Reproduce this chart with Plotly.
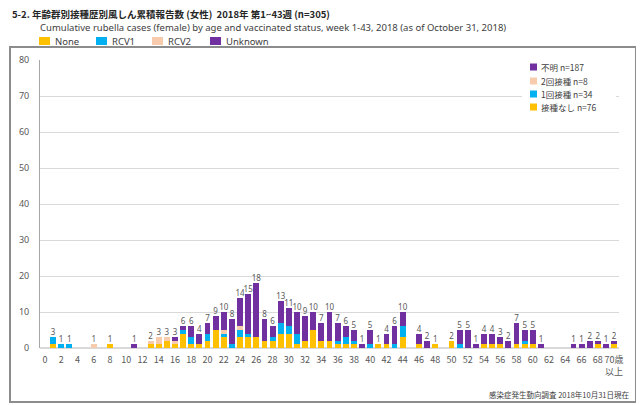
import plotly.graph_objects as go

ages = list(range(0, 71))
none_vals = [0,1,0,0,0,0,0,0,1,0, 0,0,0,1,1,2,1,4,1,1,
             2,5,3,0,3,3,3,2,2,4, 4,1,2,5,2,2,1,1,1,0,
             0,1,1,0,3,0,1,0,1,0, 2,0,0,0,1,1,1,0,1,1,
             1,0,0,0,0,0,0,0,1,0, 1]
rcv1_vals = [0,2,1,1,0,0,0,0,0,0, 0,0,0,0,0,0,0,1,2,0,
             2,0,1,1,2,1,0,0,1,3, 2,3,0,0,0,0,1,2,1,0,
             1,0,0,1,3,0,0,0,0,0, 0,1,0,0,0,0,0,0,0,1,
             0,0,0,0,0,0,0,0,0,0, 0]
rcv2_vals = [0,0,0,0,0,0,1,0,0,0, 0,0,0,1,2,1,1,0,0,0,
             0,0,1,0,1,0,0,0,0,0, 0,0,0,0,0,0,0,0,0,0,
             0,0,0,0,0,0,0,0,0,0, 0,0,0,0,0,0,0,0,0,0,
             0,0,0,0,0,0,0,0,0,0, 0]
unknown_vals = [0,0,0,0,0,0,0,0,0,0, 0,1,0,0,0,0,1,1,3,3,
                3,4,5,7,8,11,15,6,3,6, 5,6,7,5,5,8,5,3,3,1,
                4,0,3,5,4,0,3,2,0,0, 0,4,5,1,3,3,2,2,6,3,
                4,1,0,0,0,1,1,2,1,1, 1]
tick_vals = list(range(0, 71, 2))
tick_text = [str(v) for v in range(0, 70, 2)] + ["70歳<br>以上"]

series_names = ["None", "RCV1", "RCV2", "Unknown"]
series_jp = ["接種なし", "1回接種", "2回接種", "不明"]
colors = ["#FFC000", "#00B0F0", "#F8CBAD", "#7030A0"]

# the page body has an 8px margin; work in reference-image pixel coordinates
OFF = 8
W, H = 644 - OFF, 405 - OFF
L, R, T, B = 40, 619, 60, 348
def px(x):
    return (x - L) / (R - L)
def py(y):
    return (B - y) / (B - T)

series = [none_vals, rcv1_vals, rcv2_vals, unknown_vals]
totals = [sum(s[i] for s in series) for i in range(len(ages))]

fig = go.Figure()
for name, vals, c in zip(series_names, series, colors):
    fig.add_trace(go.Bar(x=ages, y=vals, name=name, marker=dict(color=c, line=dict(width=0)),
                         width=0.72, showlegend=False))

lab_x = [a for a, t in zip(ages, totals) if t > 0]
lab_y = [t for t in totals if t > 0]
fig.add_trace(go.Scatter(x=lab_x, y=lab_y, mode="text", text=[str(t) for t in lab_y],
                         textposition="top center", showlegend=False, hoverinfo="skip",
                         textfont=dict(size=8, color="#595959", family="Noto Sans")))

font_jp = "Noto Sans CJK JP"
shapes = []
annotations = []

def filled_rect(x0, x1, y0, y1, color):
    shapes.append(dict(type="rect", xref="paper", yref="paper", x0=px(x0), x1=px(x1), y0=py(y1), y1=py(y0),
                       line=dict(width=0), fillcolor=color, layer="above"))

# outer frame: four thin filled bands
fx0, fx1, fy0, fy1 = 9, 637, 46, 403
fc = "#8c8c8c"
filled_rect(fx0, fx1, fy0, fy0 + 2, fc)
filled_rect(fx0, fx1, fy1 - 2, fy1, fc)
filled_rect(fx0, fx0 + 2, fy0, fy1, fc)
filled_rect(fx1 - 2, fx1, fy0, fy1, fc)

# title and subtitle
annotations.append(dict(xref="paper", yref="paper", x=px(11), y=py(14.5), xanchor="left", yanchor="middle",
                        showarrow=False, borderpad=0,
                        text="<b>5-2. 年齢群別接種歴別風しん累積報告数 (女性)  2018年 第1~43週 (n=305)</b>",
                        font=dict(size=9.5, color="#262626", family=font_jp)))
annotations.append(dict(xref="paper", yref="paper", x=px(39), y=py(28), xanchor="left", yanchor="middle",
                        showarrow=False, borderpad=0,
                        text="Cumulative rubella cases (female) by age and vaccinated status, week 1-43, 2018 (as of October 31, 2018)",
                        font=dict(size=9.5, color="#404040", family="Noto Sans")))
# top legend (English)
top_leg_x = [39, 96, 152, 210]
for xx, name, c in zip(top_leg_x, series_names, colors):
    filled_rect(xx, xx + 11, 37, 45, c)
    annotations.append(dict(xref="paper", yref="paper", x=px(xx + 15), y=py(41.5), xanchor="left", yanchor="middle",
                            showarrow=False, borderpad=0, text=name,
                            font=dict(size=9.5, color="#404040", family="Noto Sans")))
# right legend box
filled_rect(522, 616, 60, 116, "white")
leg_y = [67, 81, 94, 107]
for i, (jp, c, vals) in enumerate(reversed(list(zip(series_jp, colors, series)))):
    y = leg_y[i]
    filled_rect(530, 537, y - 3.5, y + 3.5, c)
    annotations.append(dict(xref="paper", yref="paper", x=px(539), y=py(y), xanchor="left", yanchor="middle",
                            showarrow=False, text=f"{jp} n={sum(vals)}",
                            font=dict(size=8.5, color="#404040", family=font_jp)))
# footnote
annotations.append(dict(xref="paper", yref="paper", x=px(631), y=py(394), xanchor="right", yanchor="middle",
                        showarrow=False, text="感染症発生動向調査 2018年10月31日現在",
                        font=dict(size=7.5, color="#404040", family=font_jp)))

fig.update_layout(
    width=W, height=H,
    margin=dict(l=L - OFF, r=W - (R - OFF), t=T - OFF, b=H - (B - OFF), pad=0),
    paper_bgcolor="white", plot_bgcolor="white",
    barmode="stack", bargap=0.28,
    shapes=shapes, annotations=annotations,
    showlegend=False,
    xaxis=dict(range=[-0.6, 70.6], tickmode="array", tickvals=tick_vals, ticktext=tick_text,
               showgrid=False, zeroline=False, showline=False, ticks="", ticklabelstandoff=5,
               tickfont=dict(size=9, color="#595959", family="Noto Sans CJK JP"), tickangle=0),
    yaxis=dict(range=[0, 80], dtick=10, showgrid=True, gridcolor="#d9d9d9", gridwidth=1,
               zeroline=True, zerolinecolor="#d9d9d9", showline=True, linecolor="#a6a6a6",
               ticks="", ticklabelstandoff=8,
               tickfont=dict(size=9, color="#595959", family="Noto Sans")),
)
fig.write_html("out.html")
